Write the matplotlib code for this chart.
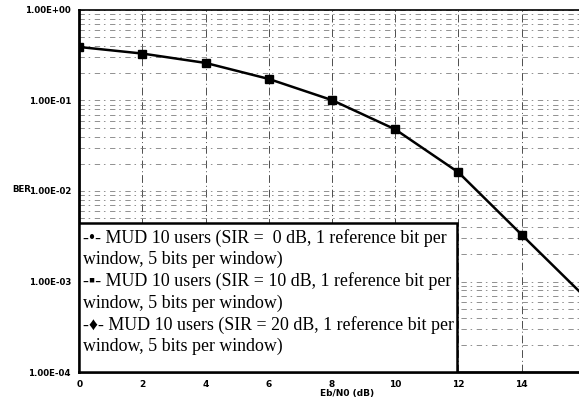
import matplotlib.pyplot as plt
import numpy as np
from matplotlib.patches import Rectangle
from matplotlib.ticker import LogLocator, NullFormatter, FixedLocator

# Eb/N0 in dB and the BER curve (SIR = 10 dB series, square markers)
ebn0 = [0, 2, 4, 6, 8, 10, 12, 14, 16]
ber_sir10 = [0.39, 0.33, 0.26, 0.173, 0.101, 0.048, 0.0161, 0.0033, 0.00068]

y_ticks = [1e0, 1e-1, 1e-2, 1e-3, 1e-4]
y_tick_labels = ["1.00E+00", "1.00E-01", "1.00E-02", "1.00E-03", "1.00E-04"]
x_ticks = [0, 2, 4, 6, 8, 10, 12, 14]

legend_lines = [
    "-\u2022- MUD 10 users (SIR =  0 dB, 1 reference bit per",
    "window, 5 bits per window)",
    "-\u25aa- MUD 10 users (SIR = 10 dB, 1 reference bit per",
    "window, 5 bits per window)",
    "-\u2666- MUD 10 users (SIR = 20 dB, 1 reference bit per",
    "window, 5 bits per window)",
]

fig = plt.figure(figsize=(5.79, 4.0), dpi=100)
ax = fig.add_axes([0.137, 0.07, 0.863, 0.905])

ax.plot(ebn0, ber_sir10, color='black', linewidth=1.8,
        marker='s', markersize=6, zorder=5, clip_on=True)

ax.set_yscale('log')
ax.set_ylim(1e-4, 1e0)
ax.set_xlim(0, 15.82)

ax.yaxis.set_major_locator(FixedLocator(y_ticks))
ax.set_yticklabels(y_tick_labels, fontsize=6.2, fontweight='bold')
ax.yaxis.set_minor_locator(LogLocator(base=10, subs=np.arange(2, 10)))
ax.yaxis.set_minor_formatter(NullFormatter())
ax.set_xticks(x_ticks)
ax.set_xticklabels([str(t) for t in x_ticks], fontsize=6.5, fontweight='bold')
ax.tick_params(which='both', length=0)
ax.tick_params(axis='y', pad=6)
ax.tick_params(axis='x', pad=6)

# scanned-looking grid
ax.grid(which='major', axis='x', color='0.3', linewidth=0.7,
        linestyle=(0, (8, 3, 1, 3)))
ax.grid(which='both', axis='y', color='0.45', linewidth=0.55,
        linestyle=(0, (7, 5, 2, 6)))

for side in ['left', 'bottom']:
    ax.spines[side].set_linewidth(2.0)
ax.spines['top'].set_linewidth(1.2)
ax.spines['right'].set_visible(False)

ax.set_xlabel("Eb/N0 (dB)", fontsize=6.5, fontweight='bold')
ax.xaxis.set_label_coords(0.535, -0.046)
fig.text(0.021, 0.525, "BER", fontsize=6.2, fontweight='bold', va='center')

# legend box drawn by hand (text wraps under the marker)
ax.add_patch(Rectangle((0, 0), 0.756, 0.412, transform=ax.transAxes,
                       facecolor='white', edgecolor='black', linewidth=1.8,
                       zorder=6))
ax.text(0.008, 0.396, "\n".join(legend_lines), transform=ax.transAxes,
        fontsize=12.9, va='top', ha='left', linespacing=1.31,
        family=['Liberation Serif', 'DejaVu Sans'], zorder=7)

plt.savefig('out.png', dpi=100)
